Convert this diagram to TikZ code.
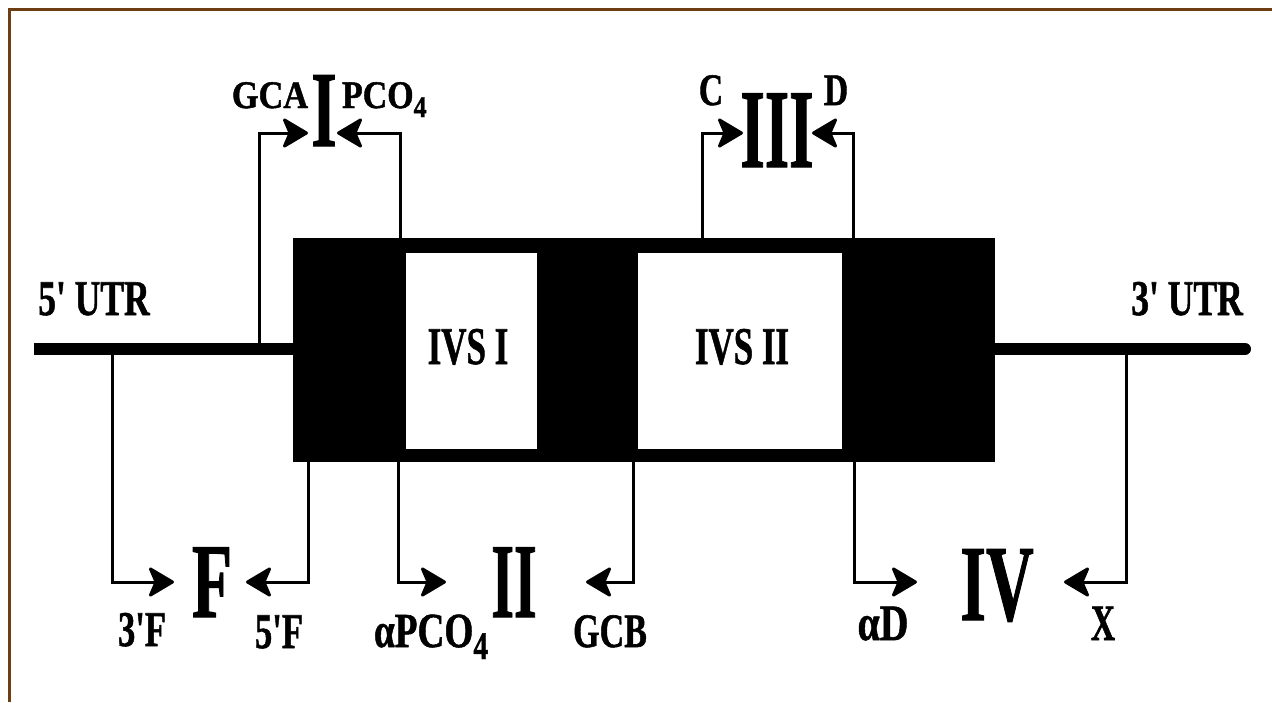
\documentclass[tikz,border=0pt]{standalone}
\usepackage{fontspec}
\usepackage{graphicx}
\setmainfont{Liberation Serif}
\newfontfamily\heavy{Liberation Serif Bold}[FakeBold=1.2]
\usetikzlibrary{arrows.meta}
\definecolor{frame}{RGB}{110,62,18}
\newcommand\lbl[3]{\fontsize{#1}{#1}\selectfont\scalebox{#2}[1]{#3}}
\tikzset{
  txt/.style={inner sep=0pt, outer sep=0pt, anchor=base, font=\heavy},
  blackbox/.style={fill=black, draw=none, inner sep=0pt, outer sep=0pt},
  whitebox/.style={fill=white, draw=none, inner sep=0pt, outer sep=0pt},
  mainline/.style={line width=12pt},
  conn/.style={line width=3pt, -{Stealth[length=28pt, width=33pt, inset=7pt, round]}},
  border/.style={line width=3pt, draw=frame}
}
\begin{document}
\begin{tikzpicture}[x=1pt, y=-1pt]
\useasboundingbox (0,0) rectangle (1272,702);
\fill[white] (0,0) rectangle (1272,702);
% frame
\coordinate (fa) at (9,702);
\coordinate (fb) at (9,9);
\coordinate (fc) at (1272,9);
\draw[border] (fa) -- (fb) -- (fc);
% gene body
\node[blackbox, minimum width=702pt, minimum height=224pt] (exon) at (644,350) {};
\node[whitebox, minimum width=131pt, minimum height=196pt] (ivs1) at (471.5,351) {};
\node[whitebox, minimum width=204pt, minimum height=196pt] (ivs2) at (740,351) {};
\node[txt] (ivs1t) at (468,364) {\lbl{53}{0.66}{IVS I}};
\node[txt] (ivs2t) at (742,364) {\lbl{53}{0.66}{IVS II}};
% UTR lines
\coordinate (L) at (34,349);
\coordinate (R) at (1245,349);
\draw[mainline] (L) -- (exon.west |- L);
\draw[mainline, line cap=round] (exon.east |- R) -- (R);
\node[txt] (utr5) at (94,315) {\lbl{50}{0.71}{5\textquotesingle{} UTR}};
\node[txt] (utr3) at (1187,315) {\lbl{50}{0.71}{3\textquotesingle{} UTR}};
% roman numerals
\node[txt] (n1) at (324,146) {\lbl{108}{0.6}{I}};
\node[txt] (n3) at (777,167) {\lbl{112}{0.56}{III}};
\node[txt] (nF) at (212,617) {\lbl{106}{0.62}{F}};
\node[txt] (n2) at (514,617) {\lbl{106}{0.55}{II}};
\node[txt] (n4) at (997,620) {\lbl{108}{0.61}{IV}};
% labels
\node[txt] (gca) at (270,108) {\lbl{39}{0.88}{GCA}};
\node[txt, anchor=base west] (pco) at (342,108) {\lbl{39}{0.87}{PCO\raisebox{-9pt}{\fontsize{30}{30}\selectfont 4}}};
\node[txt] (lc) at (711,105) {\lbl{45}{0.75}{C}};
\node[txt] (ld) at (836,105) {\lbl{45}{0.75}{D}};
\node[txt] (l3f) at (142,646) {\lbl{50}{0.69}{3\textquotesingle F}};
\node[txt] (l5f) at (279,648) {\lbl{50}{0.69}{5\textquotesingle F}};
\node[txt, anchor=base west] (apco) at (374,647) {\lbl{49}{0.76}{α{}PCO\raisebox{-12pt}{\fontsize{39}{39}\selectfont 4}}};
\node[txt] (gcb) at (610,647) {\lbl{48}{0.71}{GCB}};
\node[txt] (ad) at (883,640) {\lbl{51}{0.78}{α{}D}};
\node[txt] (lx) at (1103,640) {\lbl{51}{0.66}{X}};
% connector anchors
\coordinate (s1) at (259,349);  \coordinate (t1) at (308,133);
\coordinate (s2) at (400,238);  \coordinate (t2) at (337,133);
\coordinate (s3) at (702,238);  \coordinate (t3) at (743,133);
\coordinate (s4) at (853,238);  \coordinate (t4) at (812,133);
\coordinate (s5) at (112,349);  \coordinate (t5) at (174,582);
\coordinate (s6) at (308,462);  \coordinate (t6) at (246,582);
\coordinate (s7) at (398,462);  \coordinate (t7) at (446,582);
\coordinate (s8) at (633,462);  \coordinate (t8) at (586,582);
\coordinate (s9) at (854,462);  \coordinate (t9) at (917,582);
\coordinate (s10) at (1126,349); \coordinate (t10) at (1064,582);
\foreach \i in {1,...,10} {\draw[conn] (s\i) |- (t\i);}
\end{tikzpicture}
\end{document}
